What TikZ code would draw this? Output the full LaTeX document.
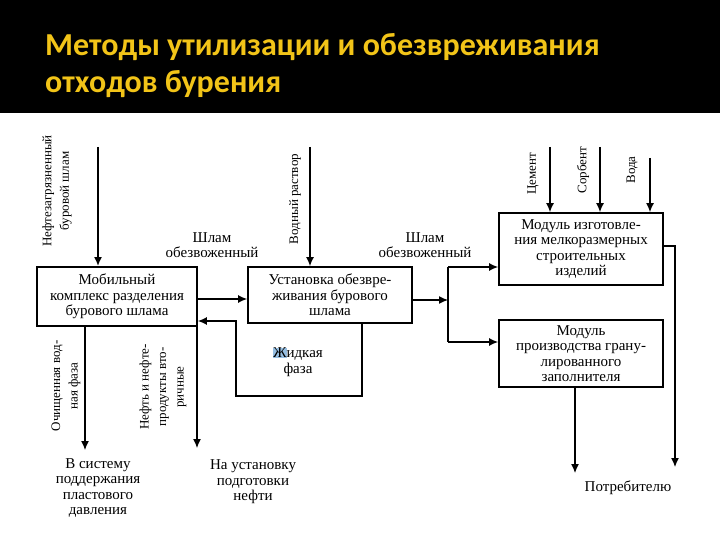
\documentclass[tikz,border=0pt]{standalone}
\usepackage{fontspec}
\setmainfont{Liberation Serif}
\newfontfamily\titlefont{Carlito}
\usetikzlibrary{arrows.meta}
\definecolor{titleyellow}{RGB}{242,196,24}
\definecolor{selblue}{RGB}{150,190,225}

\begin{document}
\begin{tikzpicture}[x=1pt,y=-1pt,
    box/.style={draw,line width=1.8pt,align=center,inner sep=0pt,font=\fontsize{15}{15.5}\selectfont},
    flow/.style={line width=1.2pt,-{Latex[length=9pt,width=8pt]}},
    lbl/.style={align=center,inner sep=0pt,font=\fontsize{15}{15.5}\selectfont},
    vlbl/.style={align=center,inner sep=0pt,rotate=90,font=\fontsize{13}{17.5}\selectfont},
    ttl/.style={anchor=base west,inner sep=0pt,text=titleyellow,font=\titlefont\bfseries\fontsize{32}{38}\selectfont}]
  \useasboundingbox (0,0) rectangle (720,540);
  % title band
  \fill[black] (0,0) rectangle (720,113);
  \node[ttl] (title1) at (45,56) {Методы утилизации и обезвреживания};
  \node[ttl] (title2) at (45,93) {отходов бурения};

  % blocks
  \node[box,minimum width=160pt,minimum height=59pt] (b1) at (117,296.5) {Мобильный\\комплекс разделения\\бурового шлама};
  \node[box,minimum width=164pt,minimum height=56pt] (b2) at (330,295) {Установка обезвре-\\живания бурового\\шлама};
  \node[box,minimum width=164pt,minimum height=72pt] (b3) at (581,249) {Модуль изготовле-\\ния мелкоразмерных\\строительных\\изделий};
  \node[box,minimum width=164pt,minimum height=67pt] (b4) at (581,353.5) {Модуль\\производства грану-\\лированного\\заполнителя};

  % labels
  \node[vlbl] (feed) at (57,191) {Нефтезагрязненный\\буровой шлам};
  \node[vlbl] (water) at (295,199) {Водный раствор};
  \node[vlbl] (cem) at (533,174) {Цемент};
  \node[vlbl] (sorb) at (583,170) {Сорбент};
  \node[vlbl] (aqua) at (632,170) {Вода};
  \node[lbl] (dry1) at (212,245) {Шлам\\обезвоженный};
  \node[lbl] (dry2) at (425,245) {Шлам\\обезвоженный};
  \node[lbl] (liq) at (298,362) {{\setlength\fboxsep{0pt}\colorbox{selblue}{Ж}}идкая\\фаза};
  \node[vlbl] (clean) at (66,386) {Очищенная вод-\\ная фаза};
  \node[vlbl] (oil) at (163,387) {Нефть и нефте-\\продукты вто-\\ричные};
  \node[lbl] (sys) at (98,488) {В систему\\поддержания\\пластового\\давления};
  \node[lbl] (prep) at (253,482) {На установку\\подготовки\\нефти};
  \node[lbl] (cons) at (628,488) {Потребителю};

  % inputs
  \coordinate (in1) at (98,147);
  \coordinate (in2) at (310,147);
  \coordinate (in3) at (550,147);
  \coordinate (in4) at (600,147);
  \coordinate (in5) at (650,158);
  \draw[flow,line width=1.8pt] (in1) -- (in1 |- b1.north);
  \draw[flow] (in2) -- (in2 |- b2.north);
  \draw[flow] (in3) -- (in3 |- b3.north);
  \draw[flow] (in4) -- (in4 |- b3.north);
  \draw[flow] (in5) -- (in5 |- b3.north);

  % main line
  \draw[flow] (b1.east |- 0,299) -- (b2.west |- 0,299);
  \draw[flow] (b2.south -| 362,0) |- (236,396) |- (b1.east |- 0,321);

  % split
  \coordinate (sp1) at (448,267);
  \coordinate (spm) at (448,300);
  \coordinate (sp2) at (448,342);
  \draw[flow] (b2.east |- spm) -- (spm);
  \draw[line width=1.2pt] (sp1) -- (sp2);
  \draw[flow] (sp1) -- (sp1 -| b3.west);
  \draw[flow] (sp2) -- (sp2 -| b4.west);

  % outputs
  \coordinate (out1) at (85,450);
  \coordinate (out2) at (197,448);
  \coordinate (out3) at (675,467);
  \coordinate (out4) at (575,473);
  \draw[flow] (b1.south -| out1) -- (out1);
  \draw[flow] (out2 |- 0,321) -- (out2);
  \draw[flow] (b3.east |- 0,246) -| (out3);
  \draw[flow] (b4.south -| out4) -- (out4);
\end{tikzpicture}
\end{document}
